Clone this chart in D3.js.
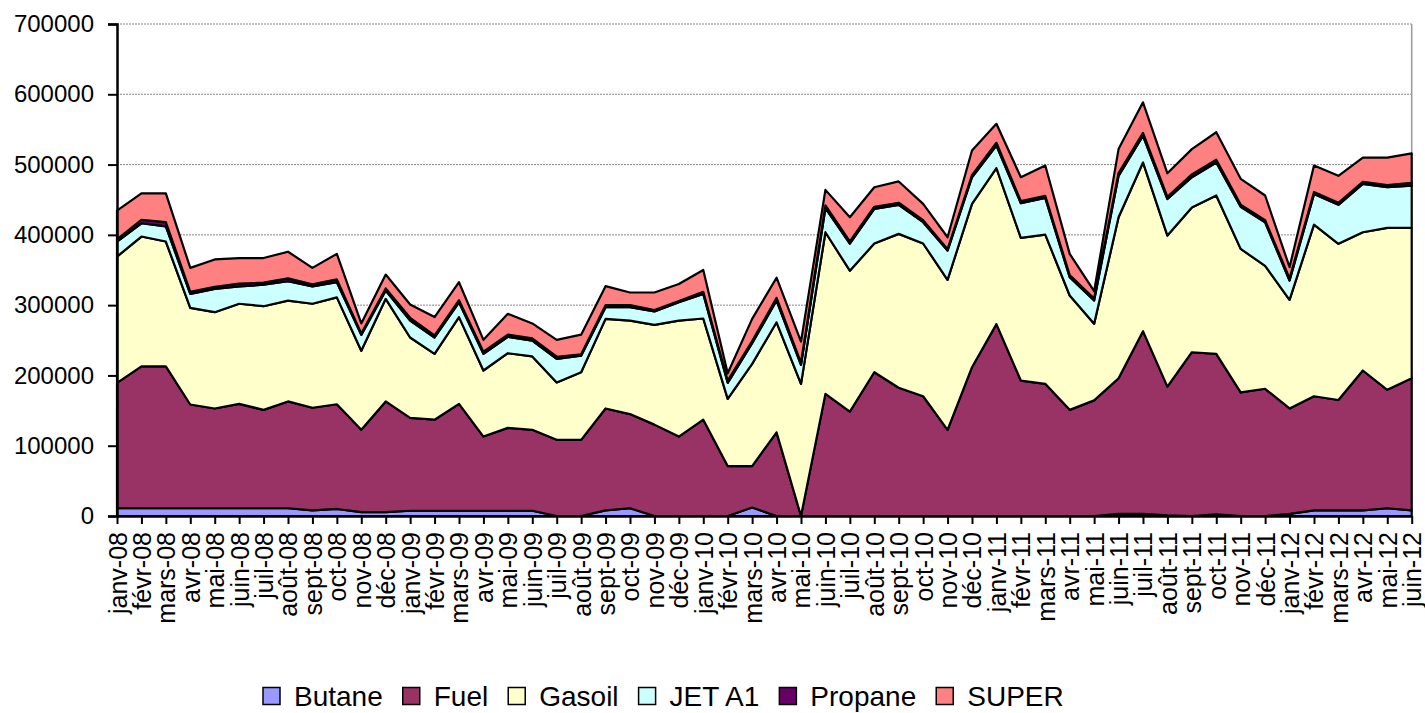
<!DOCTYPE html>
<html>
<head>
<meta charset="utf-8">
<script src="https://cdn.jsdelivr.net/npm/d3@7"></script>
<style>
  body { margin: 0; background: #fff; }
  svg { display: block; font-family: 'Liberation Sans', Arial, sans-serif; }
</style>
</head>
<body>
<svg id="chart" width="1425" height="713"></svg>
<script>
const months = [
  'janv-08', 'févr-08', 'mars-08', 'avr-08', 'mai-08', 'juin-08', 'juil-08', 'août-08', 'sept-08', 'oct-08', 'nov-08', 'déc-08',
  'janv-09', 'févr-09', 'mars-09', 'avr-09', 'mai-09', 'juin-09', 'juil-09', 'août-09', 'sept-09', 'oct-09', 'nov-09', 'déc-09',
  'janv-10', 'févr-10', 'mars-10', 'avr-10', 'mai-10', 'juin-10', 'juil-10', 'août-10', 'sept-10', 'oct-10', 'nov-10', 'déc-10',
  'janv-11', 'févr-11', 'mars-11', 'avr-11', 'mai-11', 'juin-11', 'juil-11', 'août-11', 'sept-11', 'oct-11', 'nov-11', 'déc-11',
  'janv-12', 'févr-12', 'mars-12', 'avr-12', 'mai-12', 'juin-12'
]

const butane = [
  11000, 11000, 11000, 11000, 11000, 11000, 11000, 11000, 8000, 10000, 5500, 5500,
  7500, 7500, 7500, 7500, 7500, 7500, 0, 0, 8000, 11000, 0, 0,
  0, 0, 12000, 0, 0, 0, 0, 0, 0, 0, 0, 0,
  0, 0, 0, 0, 0, 3000, 3000, 1000, 0, 2500, 0, 0,
  3000, 8000, 8000, 8000, 11000, 8000
]
const fuel = [
  178500, 202000, 202000, 147600, 142000, 148600, 140000, 152000, 146000, 149000, 117100, 157500,
  132200, 129500, 152100, 105500, 117900, 115100, 108400, 108400, 145000, 134000, 130000, 113000,
  137000, 71000, 59000, 119000, 0, 173800, 148600, 204500, 182400, 170400, 122600, 211700,
  273000, 192700, 188000, 151000, 164500, 193000, 260000, 183000, 233000, 228200, 176000, 181000,
  150000, 162400, 157000, 199000, 168500, 188000
]
const gasoil = [
  179500, 184600, 177500, 137400, 137000, 142400, 147500, 143500, 148000, 152000, 112400, 146000,
  114300, 93700, 123400, 94000, 106200, 104400, 81600, 96100, 127500, 133000, 142000, 165000,
  144000, 95700, 145500, 156600, 188000, 229900, 200400, 183200, 219000, 217300, 213400, 232300,
  222000, 203000, 212400, 162700, 109000, 229000, 240000, 215000, 206000, 225300, 204000, 175000,
  154500, 244200, 222200, 196700, 230500, 214000
]
const jetA1 = [
  21500, 18900, 21500, 20000, 33000, 24500, 30500, 27500, 24500, 21600, 22700, 11800,
  24000, 23300, 21000, 23700, 23400, 22600, 33600, 23500, 16500, 19000, 19000, 26000,
  35000, 22800, 29300, 30900, 27000, 34300, 38700, 49300, 41300, 30300, 41700, 38000,
  32000, 49300, 52200, 26000, 33000, 59000, 38000, 52000, 43000, 47000, 60000, 62000,
  27500, 43400, 55500, 68900, 57700, 60000
]
const propane = [
  3000, 5000, 6000, 3000, 3000, 4000, 3000, 4000, 3000, 4000, 2000, 3000,
  4000, 3000, 3000, 3000, 3000, 3000, 3000, 2000, 3000, 3000, 2000, 2000,
  3000, 3000, 3000, 4000, 3000, 4000, 3000, 3000, 3000, 3000, 2000, 3000,
  4000, 3000, 3000, 3000, 3000, 4000, 4000, 3000, 4000, 4000, 3000, 3000,
  3000, 3000, 3000, 3000, 3000, 4000
]
const superV = [
  41100, 37500, 41000, 34000, 39000, 36500, 35000, 38000, 23500, 36400, 14300, 19700,
  19000, 26000, 25600, 16900, 29600, 21400, 24000, 28000, 27000, 18000, 25000, 24000,
  31000, 10500, 31700, 28500, 30000, 22000, 34300, 27700, 30300, 23000, 16900, 35000,
  27000, 34000, 43000, 30300, 10500, 34000, 43600, 33600, 36000, 39000, 36700, 35000,
  16000, 37600, 38300, 34400, 39300, 42000
]

const seriesNames = ['Butane', 'Fuel', 'Gasoil', 'JET A1', 'Propane', 'SUPER']
const seriesValues = [butane, fuel, gasoil, jetA1, propane, superV]
const colors = ['#9999FF', '#993366', '#FFFFCC', '#CCFFFF', '#660066', '#FF8080']
const yTicks = [0, 100000, 200000, 300000, 400000, 500000, 600000, 700000]

const plotLeft = 117
const plotRight = 1411.7
const plotTop = 24
const plotBottom = 516

const rows = months.map((m, i) => {
  const row = { month: m }
  seriesNames.forEach((name, k) => (row[name] = seriesValues[k][i]))
  return row
})

const svg = d3.select('#chart')

const x = d3.scalePoint().domain(months).range([plotLeft, plotRight])
const y = d3.scaleLinear().domain([0, 700000]).range([plotBottom, plotTop])
const color = d3.scaleOrdinal().domain(seriesNames).range(colors)

// gridlines
svg
  .append('g')
  .selectAll('line')
  .data(yTicks.slice(1))
  .join('line')
  .attr('x1', plotLeft)
  .attr('x2', plotRight)
  .attr('y1', (d) => y(d))
  .attr('y2', (d) => y(d))
  .attr('stroke', '#888')
  .attr('stroke-width', 1)
  .attr('stroke-dasharray', '2,1')

svg
  .append('line')
  .attr('x1', plotRight)
  .attr('x2', plotRight)
  .attr('y1', plotTop)
  .attr('y2', plotBottom)
  .attr('stroke', '#999')
  .attr('stroke-width', 1.5)

const stacked = d3.stack().keys(seriesNames)(rows)

const area = d3
  .area()
  .x((d) => x(d.data.month))
  .y0((d) => y(d[0]))
  .y1((d) => y(d[1]))

svg
  .append('g')
  .selectAll('path')
  .data(stacked)
  .join('path')
  .attr('d', area)
  .attr('fill', (d) => color(d.key))
  .attr('stroke', '#000')
  .attr('stroke-width', 2.2)
  .attr('stroke-linejoin', 'round')

// y axis
const yAxis = svg
  .append('g')
  .attr('transform', `translate(${plotLeft},0)`)
  .call(d3.axisLeft(y).tickValues(yTicks).tickSize(9).tickPadding(14).tickFormat(d3.format('d')))
yAxis.select('.domain').attr('stroke-width', 2.5)
yAxis.selectAll('.tick line').attr('stroke-width', 2)
yAxis
  .selectAll('.tick text')
  .attr('font-size', '24px')
  .attr('font-family', "'Liberation Sans', Arial, sans-serif")
  .attr('fill', '#000')

// x axis
const xAxis = svg
  .append('g')
  .attr('transform', `translate(0,${plotBottom})`)
  .call(d3.axisBottom(x).tickSize(8).tickSizeOuter(0))
xAxis.select('.domain').attr('stroke-width', 2.5)
xAxis.selectAll('.tick line').attr('stroke-width', 2)
xAxis
  .selectAll('.tick text')
  .attr('font-size', '25px')
  .attr('font-family', "'Liberation Sans', Arial, sans-serif")
  .attr('fill', '#000')
  .attr('text-anchor', 'end')
  .attr('transform', 'rotate(-90)')
  .attr('x', -16)
  .attr('y', 0)
  .attr('dy', '0.36em')

// legend
const legend = svg.append('g').attr('transform', 'translate(263,0)')
let lx = 0
seriesNames.forEach((name) => {
  const item = legend.append('g').attr('transform', `translate(${lx},0)`)
  item
    .append('rect')
    .attr('x', 0)
    .attr('y', 687.5)
    .attr('width', 17)
    .attr('height', 17)
    .attr('fill', color(name))
    .attr('stroke', '#000')
    .attr('stroke-width', 1.5)
  const t = item
    .append('text')
    .attr('x', 31)
    .attr('y', 706)
    .attr('font-size', '28px')
    .attr('fill', '#000')
    .text(name)
  lx += 31 + t.node().getComputedTextLength() + 20
})
</script>
</body>
</html>
